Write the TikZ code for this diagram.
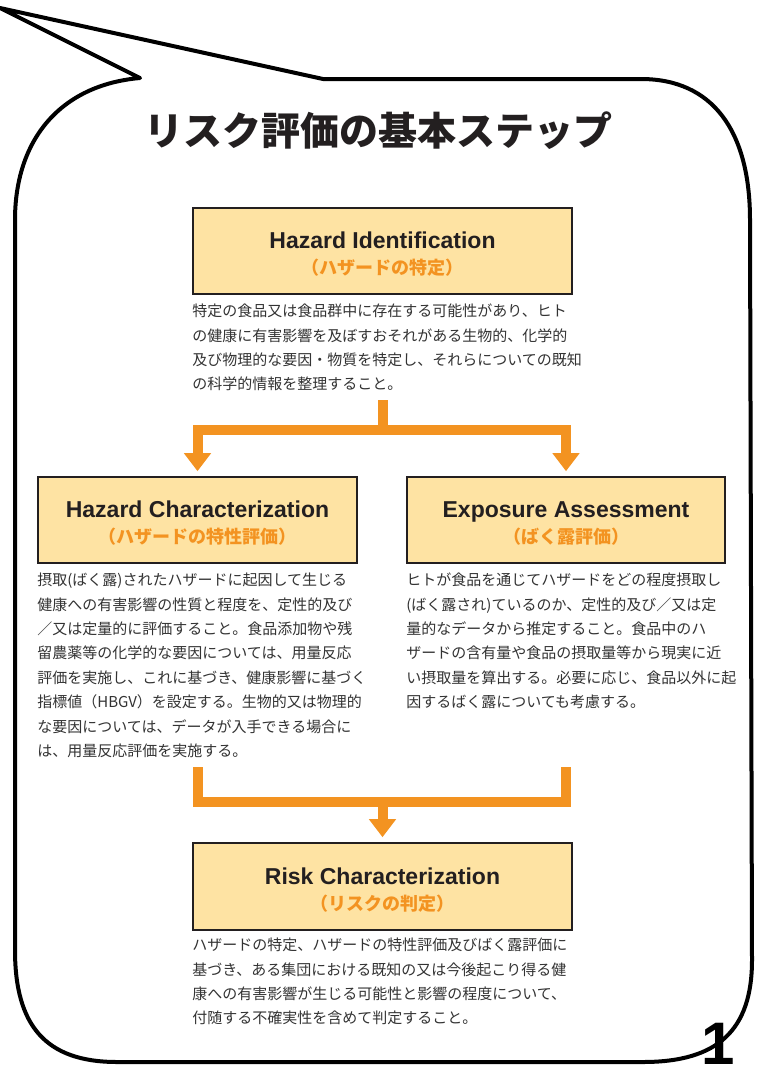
\documentclass[tikz,border=0pt]{standalone}
\usepackage{fontspec}
\setmainfont{Liberation Sans}
\newfontfamily\jpfont{Noto Sans CJK JP}
\usetikzlibrary{positioning,arrows.meta}
\definecolor{boxfill}{HTML}{FEE3A3}
\definecolor{flow}{HTML}{F39321}
\definecolor{bodytext}{HTML}{333333}
\definecolor{inkblack}{HTML}{231F20}
\tikzstyle{stepbox}=[draw=inkblack,line width=1.6pt,fill=boxfill,align=center,inner sep=0pt,text=inkblack,font=\fontsize{23}{28}\selectfont\bfseries]
\tikzstyle{widebox}=[stepbox,minimum width=379pt,minimum height=86pt]
\tikzstyle{narrowbox}=[stepbox,minimum width=319pt,minimum height=86pt]
\tikzstyle{desc}=[text=bodytext,align=left,inner sep=0pt,text width=400pt,font=\jpfont\fontsize{15}{24.4}\selectfont]
\tikzstyle{pipe}=[flow,line width=10pt]
\tikzstyle{pipearrow}=[pipe,-{Triangle[width=26pt,length=18pt]},shorten >=5pt]
\tikzstyle{bubble}=[line width=4pt,line join=round,fill=white]
\newcommand{\steptitle}[2]{\rule{0pt}{23pt}#1\\[-2pt]{\jpfont\bfseries\fontsize{18}{20}\selectfont\color{flow}#2}}

\begin{document}
\begin{tikzpicture}[x=1pt,y=-1pt]
\useasboundingbox (0,0) rectangle (756,1065);
% speech bubble
\draw[bubble] (0,8) -- (323,79) -- (641,79) .. controls (712,79) and (750,130) .. (750,220)
  -- (752,960) .. controls (752,1030) and (718,1062) .. (643,1062)
  -- (117,1062) .. controls (45,1062) and (15,1025) .. (15,950)
  -- (15,220) .. controls (15,140) and (60,85) .. (140,78) -- cycle;
\node[font=\jpfont\bfseries\fontsize{39}{44}\selectfont,text=inkblack] (title) at (378,131) {リスク評価の基本ステップ};

\node[widebox] (hi) at (382.5,251) {\steptitle{Hazard Identification}{（ハザードの特定）}};
\node[desc,below=9pt of hi.south west,anchor=north west] (hitxt) {特定の食品又は食品群中に存在する可能性があり、ヒト\\
の健康に有害影響を及ぼすおそれがある生物的、化学的\\
及び物理的な要因・物質を特定し、それらについての既知\\
の科学的情報を整理すること。};

\node[narrowbox] (hc) at (197.5,520) {\steptitle{Hazard Characterization}{（ハザードの特性評価）}};
\node[desc,below=9pt of hc.south west,anchor=north west] (hctxt) {摂取(ばく露)されたハザードに起因して生じる\\
健康への有害影響の性質と程度を、定性的及び\\
／又は定量的に評価すること。食品添加物や残\\
留農薬等の化学的な要因については、用量反応\\
評価を実施し、これに基づき、健康影響に基づく\\
指標値（HBGV）を設定する。生物的又は物理的\\
な要因については、データが入手できる場合に\\
は、用量反応評価を実施する。};

\node[narrowbox,minimum width=318pt] (ea) at (566,520) {\steptitle{Exposure Assessment}{（ばく露評価）}};
\node[desc,below=9pt of ea.south west,anchor=north west] (eatxt) {ヒトが食品を通じてハザードをどの程度摂取し\\
(ばく露され)ているのか、定性的及び／又は定\\
量的なデータから推定すること。食品中のハ\\
ザードの含有量や食品の摂取量等から現実に近\\
い摂取量を算出する。必要に応じ、食品以外に起\\
因するばく露についても考慮する。};

\node[widebox,minimum height=87pt] (rc) at (382.5,886.5) {\steptitle{Risk Characterization}{（リスクの判定）}};
\node[desc,below=7pt of rc.south west,anchor=north west] (rctxt) {ハザードの特定、ハザードの特性評価及びばく露評価に\\
基づき、ある集団における既知の又は今後起こり得る健\\
康への有害影響が生じる可能性と影響の程度について、\\
付随する不確実性を含めて判定すること。};

% connectors
\coordinate (forktop) at (382.5,400);
\coordinate (fork) at (382.5,430);
\coordinate (bartop) at (0,767);
\coordinate (join) at (382.5,802);
\draw[pipe] (forktop) -- (fork);
\draw[pipearrow] (fork) -| (hc.north);
\draw[pipearrow] (fork) -| (ea.north);
\draw[pipe] (hc.south |- bartop) -- (hc.south |- join) -- (ea.south |- join) -- (ea.south |- bartop);
\draw[pipearrow] (join) -- (rc.north);

\node[font=\fontsize{60}{60}\selectfont\bfseries,anchor=north,inner sep=0pt] (pagenum) at (718,1023) {1};
\end{tikzpicture}
\end{document}
